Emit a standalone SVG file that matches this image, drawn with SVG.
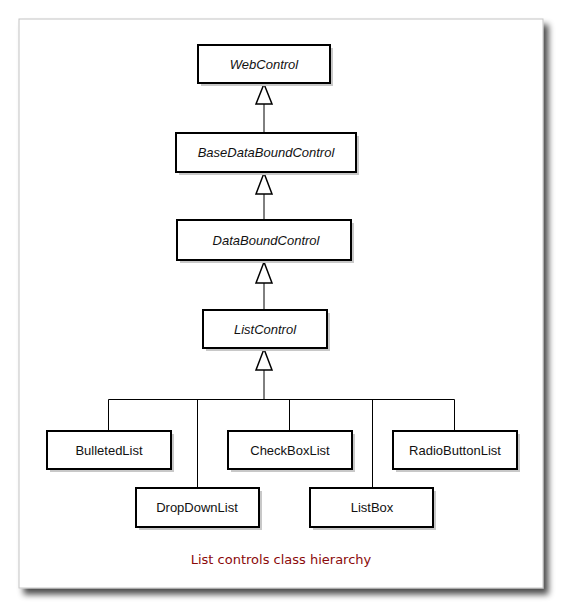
<svg xmlns="http://www.w3.org/2000/svg" width="563" height="609" viewBox="0 0 563 609">
<defs>
<filter id="fs" x="-10%" y="-10%" width="125%" height="125%">
<feGaussianBlur in="SourceAlpha" stdDeviation="3"/>
<feOffset dx="5" dy="6" result="b"/>
<feComponentTransfer><feFuncA type="linear" slope="0.7"/></feComponentTransfer>
<feMerge><feMergeNode/><feMergeNode in="SourceGraphic"/></feMerge>
</filter>
</defs>
<style>
.sh{fill:#c8c8c8}
.box{fill:#fff;stroke:#000;stroke-width:2}
.t{font-family:"Liberation Sans",Arial,sans-serif;font-size:13px;fill:#111;text-anchor:middle}
.i{font-style:italic}
.c{fill:none;stroke:#000;stroke-width:1}
.tri{fill:#fff;stroke:#000;stroke-width:1.5}
.cap{font-family:"DejaVu Sans",sans-serif;font-size:13px;fill:#8b0a0a;text-anchor:middle}
</style>
<rect x="0" y="0" width="563" height="609" fill="#fff"/>
<rect x="19" y="19" width="524" height="569" fill="#fff" stroke="#c4c4c4" stroke-width="1" filter="url(#fs)"/>

<g id="connectors">
<line class="c" x1="264" y1="104" x2="264" y2="133"/>
<line class="c" x1="264" y1="194" x2="264" y2="219"/>
<line class="c" x1="264" y1="283" x2="264" y2="309"/>
<line class="c" x1="264" y1="370" x2="264" y2="399"/>
<path class="c" d="M108.5 430V399.5H454.5V430"/>
<line class="c" x1="197.5" y1="399" x2="197.5" y2="487"/>
<line class="c" x1="289.5" y1="399" x2="289.5" y2="430"/>
<line class="c" x1="372.5" y1="399" x2="372.5" y2="487"/>
<polygon class="tri" points="264,84 272,104 256,104"/>
<polygon class="tri" points="264,173 272,194 256,194"/>
<polygon class="tri" points="264,262 272,283 256,283"/>
<polygon class="tri" points="264,349 272,370 256,370"/>
</g>

<g id="WebControl">
<rect class="sh" x="201" y="48" width="132" height="38"/>
<rect class="box" x="198" y="45" width="132" height="38"/>
<text class="t i" x="264" y="69">WebControl</text>
</g>
<g id="BaseDataBoundControl">
<rect class="sh" x="179" y="136" width="180" height="39"/>
<rect class="box" x="176" y="133" width="180" height="39"/>
<text class="t i" x="266" y="157">BaseDataBoundControl</text>
</g>
<g id="DataBoundControl">
<rect class="sh" x="180" y="223" width="174" height="40"/>
<rect class="box" x="177" y="220" width="174" height="40"/>
<text class="t i" x="266" y="245">DataBoundControl</text>
</g>
<g id="ListControl">
<rect class="sh" x="206" y="313" width="124" height="38"/>
<rect class="box" x="203" y="310" width="124" height="38"/>
<text class="t i" x="265" y="334">ListControl</text>
</g>
<g id="BulletedList">
<rect class="sh" x="50" y="434" width="124" height="38"/>
<rect class="box" x="47" y="431" width="124" height="38"/>
<text class="t" x="109" y="455">BulletedList</text>
</g>
<g id="CheckBoxList">
<rect class="sh" x="231" y="434" width="124" height="38"/>
<rect class="box" x="228" y="431" width="124" height="38"/>
<text class="t" x="290" y="455">CheckBoxList</text>
</g>
<g id="RadioButtonList">
<rect class="sh" x="396" y="434" width="124" height="38"/>
<rect class="box" x="393" y="431" width="124" height="38"/>
<text class="t" x="455" y="455">RadioButtonList</text>
</g>
<g id="DropDownList">
<rect class="sh" x="139" y="491" width="123" height="39"/>
<rect class="box" x="136" y="488" width="123" height="39"/>
<text class="t" x="197" y="512">DropDownList</text>
</g>
<g id="ListBox">
<rect class="sh" x="313" y="491" width="123" height="39"/>
<rect class="box" x="310" y="488" width="123" height="39"/>
<text class="t" x="372" y="512">ListBox</text>
</g>
<text class="cap" x="281" y="564">List controls class hierarchy</text>
</svg>
